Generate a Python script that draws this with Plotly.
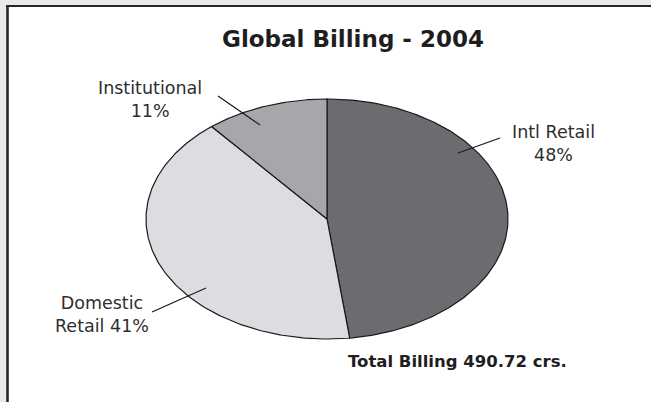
import numpy as np
import plotly.graph_objects as go

# Billing split for 2004 (percent of total)
segments = ["Intl Retail", "Domestic Retail", "Institutional"]
shares = [48, 41, 11]
label_texts = ["Intl Retail<br>48%", "Domestic<br>Retail 41%", "Institutional<br>11%"]
slice_colors = ["#6b6c70", "#dcdde0", "#a6a7ab"]
total_billing = 490.72

W, H = 651, 402
CX, CY = 327, 219          # pie centre (px)
RX, RY = 181, 120          # horizontal / vertical radii (px)

fig = go.Figure()

# Grey surround on the left and top, with a dark rule framing the white panel
grey = "#e9e9e9"
fig.add_shape(type="rect", x0=-5, y0=-5, x1=7, y1=H + 5, fillcolor=grey,
              line=dict(width=0), layer="below")
fig.add_shape(type="rect", x0=-5, y0=-5, x1=W + 5, y1=5, fillcolor=grey,
              line=dict(width=0), layer="below")
fig.add_shape(type="line", x0=7.5, y0=5, x1=7.5, y1=H + 5,
              line=dict(color="#262626", width=2.6), layer="below")
fig.add_shape(type="line", x0=6.2, y0=6, x1=W + 5, y1=6,
              line=dict(color="#262626", width=2.2), layer="below")

# Slices of the flattened pie, clockwise from 12 o'clock
start = 0.0
total = sum(shares)
for name, val, col in zip(segments, shares, slice_colors):
    a0 = start / total * 2 * np.pi
    a1 = (start + val) / total * 2 * np.pi
    t = np.linspace(a0, a1, 200)
    xs = np.concatenate([[CX], CX + RX * np.sin(t), [CX]])
    ys = np.concatenate([[CY], CY - RY * np.cos(t), [CY]])
    fig.add_trace(go.Scatter(x=xs, y=ys, mode="lines", fill="toself",
                             fillcolor=col, line=dict(color="#1a1a1a", width=1.2),
                             name=name, hoverinfo="name", showlegend=False))
    start += val

# Leader lines
leaders = [((458, 153), (500, 138)), ((152, 312), (206, 288)), ((218, 96), (260, 125))]
for (x0, y0), (x1, y1) in leaders:
    fig.add_shape(type="line", x0=x0, y0=y0, x1=x1, y1=y1,
                  line=dict(color="#1a1a1a", width=1.2))

label_pos = [(553, 143), (102, 314), (150, 99)]
lab_font = dict(family="DejaVu Sans", size=17.5, color="#2e2e2e")
for txt, (x, y) in zip(label_texts, label_pos):
    fig.add_annotation(x=x, y=y, text=txt, showarrow=False, font=lab_font,
                       xanchor="center", yanchor="middle", align="center")

fig.add_annotation(x=353, y=39, text="<b>Global Billing - 2004</b>", showarrow=False,
                   font=dict(family="DejaVu Sans", size=23, color="#1e1e1e"),
                   xanchor="center", yanchor="middle")
fig.add_annotation(x=457, y=361, text=f"<b>Total Billing {total_billing:.2f} crs.</b>",
                   showarrow=False, font=dict(family="DejaVu Sans", size=16.5, color="#1e1e1e"),
                   xanchor="center", yanchor="middle")

fig.update_xaxes(range=[0, W], visible=False, fixedrange=True)
fig.update_yaxes(range=[H, 0], visible=False, fixedrange=True)
fig.update_layout(width=W, height=H, margin=dict(l=0, r=0, t=0, b=0),
                  paper_bgcolor="white", plot_bgcolor="white")

fig.write_html("out.html", config={"displayModeBar": False})
